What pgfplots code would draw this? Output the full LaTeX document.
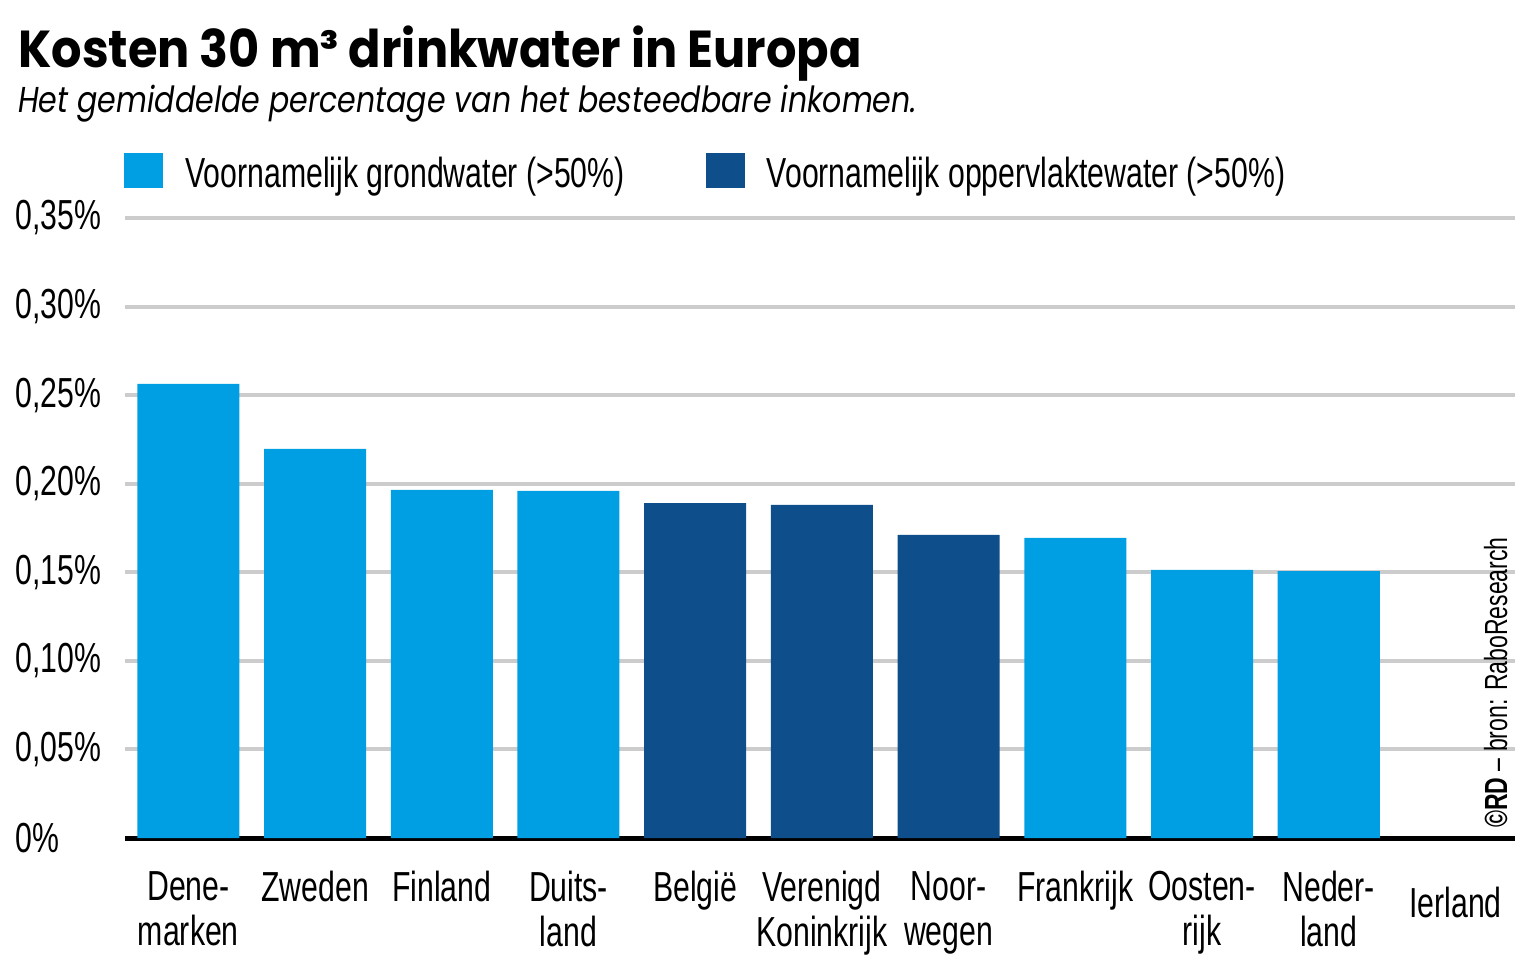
\documentclass[border=0pt]{standalone}
\usepackage{pgfplots}
\pgfplotsset{compat=1.18}
\usepackage{fontspec}
\setmainfont{Liberation Sans}[FakeStretch=0.72]
\newfontfamily\titlefont{Poppins}[FakeStretch=0.92]
\newfontfamily\subfont{Poppins}[FakeStretch=0.835]
\definecolor{lightb}{RGB}{0,159,227}
\definecolor{darkb}{RGB}{14,79,139}
\definecolor{gridc}{RGB}{204,204,204}
\begin{document}
\begin{tikzpicture}[x=1pt,y=1pt]
\useasboundingbox (-125,-137) rectangle (1414,838);
\begin{axis}[
  at={(0,0)}, anchor=south west,
  scale only axis, width=1390pt, height=620pt,
  xmin=-0.5, xmax=10.47, ymin=0, ymax=0.35,
  axis x line=bottom, axis y line=left,
  x axis line style={line width=5pt, black, -},
  y axis line style={draw=none},
  ymajorgrids, grid style={line width=4pt, gridc},
  ytick={0,0.05,0.10,0.15,0.20,0.25,0.30,0.35},
  yticklabels={0\%,{0,05\%},{0,10\%},{0,15\%},{0,20\%},{0,25\%},{0,30\%},{0,35\%}},
  major tick length=0pt,
  yticklabel style={anchor=west, xshift=-110pt, inner sep=0pt, font=\fontsize{42}{46}\selectfont},
  xtick={0,1,2,3,4,5,6,7,8,9,10},
  xticklabels={{Dene-\\marken},Zweden,Finland,{Duits-\\land},België,{Verenigd\\Koninkrijk},{Noor-\\wegen},Frankrijk,{Oosten-\\rijk},{Neder-\\land},{\rule{0pt}{46pt}Ierland}},
  xticklabel style={anchor=north, yshift=-33pt, align=center, inner sep=0pt, font=\fontsize{42}{45}\selectfont},
  ybar, bar width=102pt, bar shift=0pt,
  legend columns=2,
  legend style={draw=none, fill=none, at={(rel axis cs:0,1)}, anchor=south west, yshift=27pt, xshift=-1pt,
    font=\fontsize{42}{46}\selectfont, inner sep=0pt,
    /tikz/every even column/.append style={column sep=79pt}},
  legend image code/.code={\fill[#1] (0pt,-15pt) rectangle (39pt,20pt);},
]
\addplot[fill=lightb, draw=none] coordinates {(0,0.2563) (1,0.2196) (2,0.1965) (3,0.1959) (7,0.1694) (8,0.1513) (9,0.1507)};
\addlegendentry{\hspace{20pt}Voornamelijk grondwater (>50\%)}
\addplot[fill=darkb, draw=none] coordinates {(4,0.1891) (5,0.1880) (6,0.1711)};
\addlegendentry{\hspace{20pt}Voornamelijk oppervlaktewater (>50\%)}
\end{axis}
\node[anchor=base west, inner sep=0pt] at (-107,770) {\titlefont\bfseries\fontsize{52}{56}\selectfont Kosten 30 m³ drinkwater in Europa};
\node[anchor=base west, inner sep=0pt] at (-107,725) {\subfont\itshape\fontsize{36}{40}\selectfont Het gemiddelde percentage van het besteedbare inkomen.};
\node[rotate=90, anchor=base west, inner sep=0pt] at (1382,10) {\fontsize{32}{34}\selectfont\textbf{©RD} – bron: RaboResearch};
\end{tikzpicture}
\end{document}
